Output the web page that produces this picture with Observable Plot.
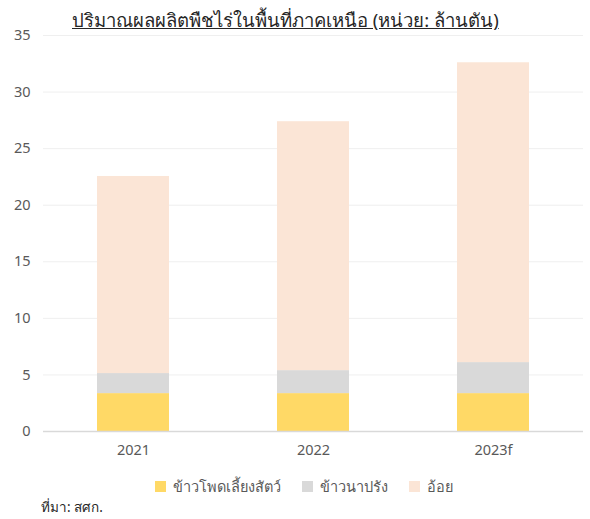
<!DOCTYPE html>
<html><head><meta charset="utf-8">
<script src="https://cdn.jsdelivr.net/npm/d3@7"></script>
<script src="https://cdn.jsdelivr.net/npm/@observablehq/plot@0.6"></script>
<style>
body{margin:0;background:#fff;font-family:"Noto Sans","Open Sans",sans-serif;}
#wrap{position:relative;width:590px;height:519px;}
#title{position:absolute;top:6px;left:72px;font-size:18.5px;font-weight:normal;color:#262626;text-decoration:underline;white-space:nowrap;}
#legend{position:absolute;top:0;left:0;}
.li{position:absolute;top:476px;font-size:14.5px;color:#595959;white-space:nowrap;line-height:20px;}
.sw{position:absolute;top:5px;width:11px;height:11px;}
#source{position:absolute;top:496px;left:41px;font-size:13.5px;color:#262626;}
#chart{position:absolute;top:0;left:0;}
</style></head>
<body><div id="wrap"><div id="chart"></div><div id="title"></div><div id="legend"></div><div id="source"></div></div>
<script>
const years = ["2021", "2022", "2023f"];
const seriesNames = ["ข้าวโพดเลี้ยงสัตว์", "ข้าวนาปรัง", "อ้อย"];
const corn = [3.35, 3.35, 3.35];
const rice = [1.77, 2.03, 2.74];
const sugarcane = [17.42, 22.0, 26.5];
const colors = ["#FFD966", "#D9D9D9", "#FBE5D6"];
const yTicks = [0, 5, 10, 15, 20, 25, 30, 35];
const titleText = "ปริมาณผลผลิตพืชไร่ในพื้นที่ภาคเหนือ (หน่วย: ล้านตัน)";
const sourceText = "ที่มา: สศก.";

const seriesValues = [corn, rice, sugarcane];
const data = [];
seriesNames.forEach((s, i) => years.forEach((y, j) => data.push({year: y, series: s, value: seriesValues[i][j]})));

const plot = Plot.plot({
  width: 590, height: 466,
  marginTop: 35, marginBottom: 35, marginLeft: 43, marginRight: 7,
  style: {fontFamily: "'Noto Sans', sans-serif", fontSize: "14px", color: "#595959", overflow: "visible"},
  x: {domain: years, paddingInner: 0.6, paddingOuter: 0.3, label: null},
  y: {domain: [0, 35], label: null},
  color: {domain: seriesNames, range: colors},
  marks: [
    Plot.gridY(yTicks, {stroke: "#EFEFEF", strokeOpacity: 1}),
    Plot.barY(data, {x: "year", y: "value", fill: "series"}),
    Plot.ruleY([0], {stroke: "#D9D9D9", strokeWidth: 1.5}),
    Plot.axisY(yTicks, {tickSize: 0, tickPadding: 13, fontSize: 14.5}),
    Plot.axisX({tickSize: 0, tickPadding: 13, fontSize: 14.5})
  ]
});
document.getElementById("chart").appendChild(plot);
document.getElementById("title").textContent = titleText;
document.getElementById("source").textContent = sourceText;
const lg = document.getElementById("legend");
const legendX = [155, 302, 409];
seriesNames.forEach((s, i) => {
  const d = document.createElement("div");
  d.className = "li";
  d.style.left = legendX[i] + "px";
  d.innerHTML = `<span class="sw" style="background:${colors[i]}"></span><span style="margin-left:18px">${s}</span>`;
  lg.appendChild(d);
});
</script></body></html>
